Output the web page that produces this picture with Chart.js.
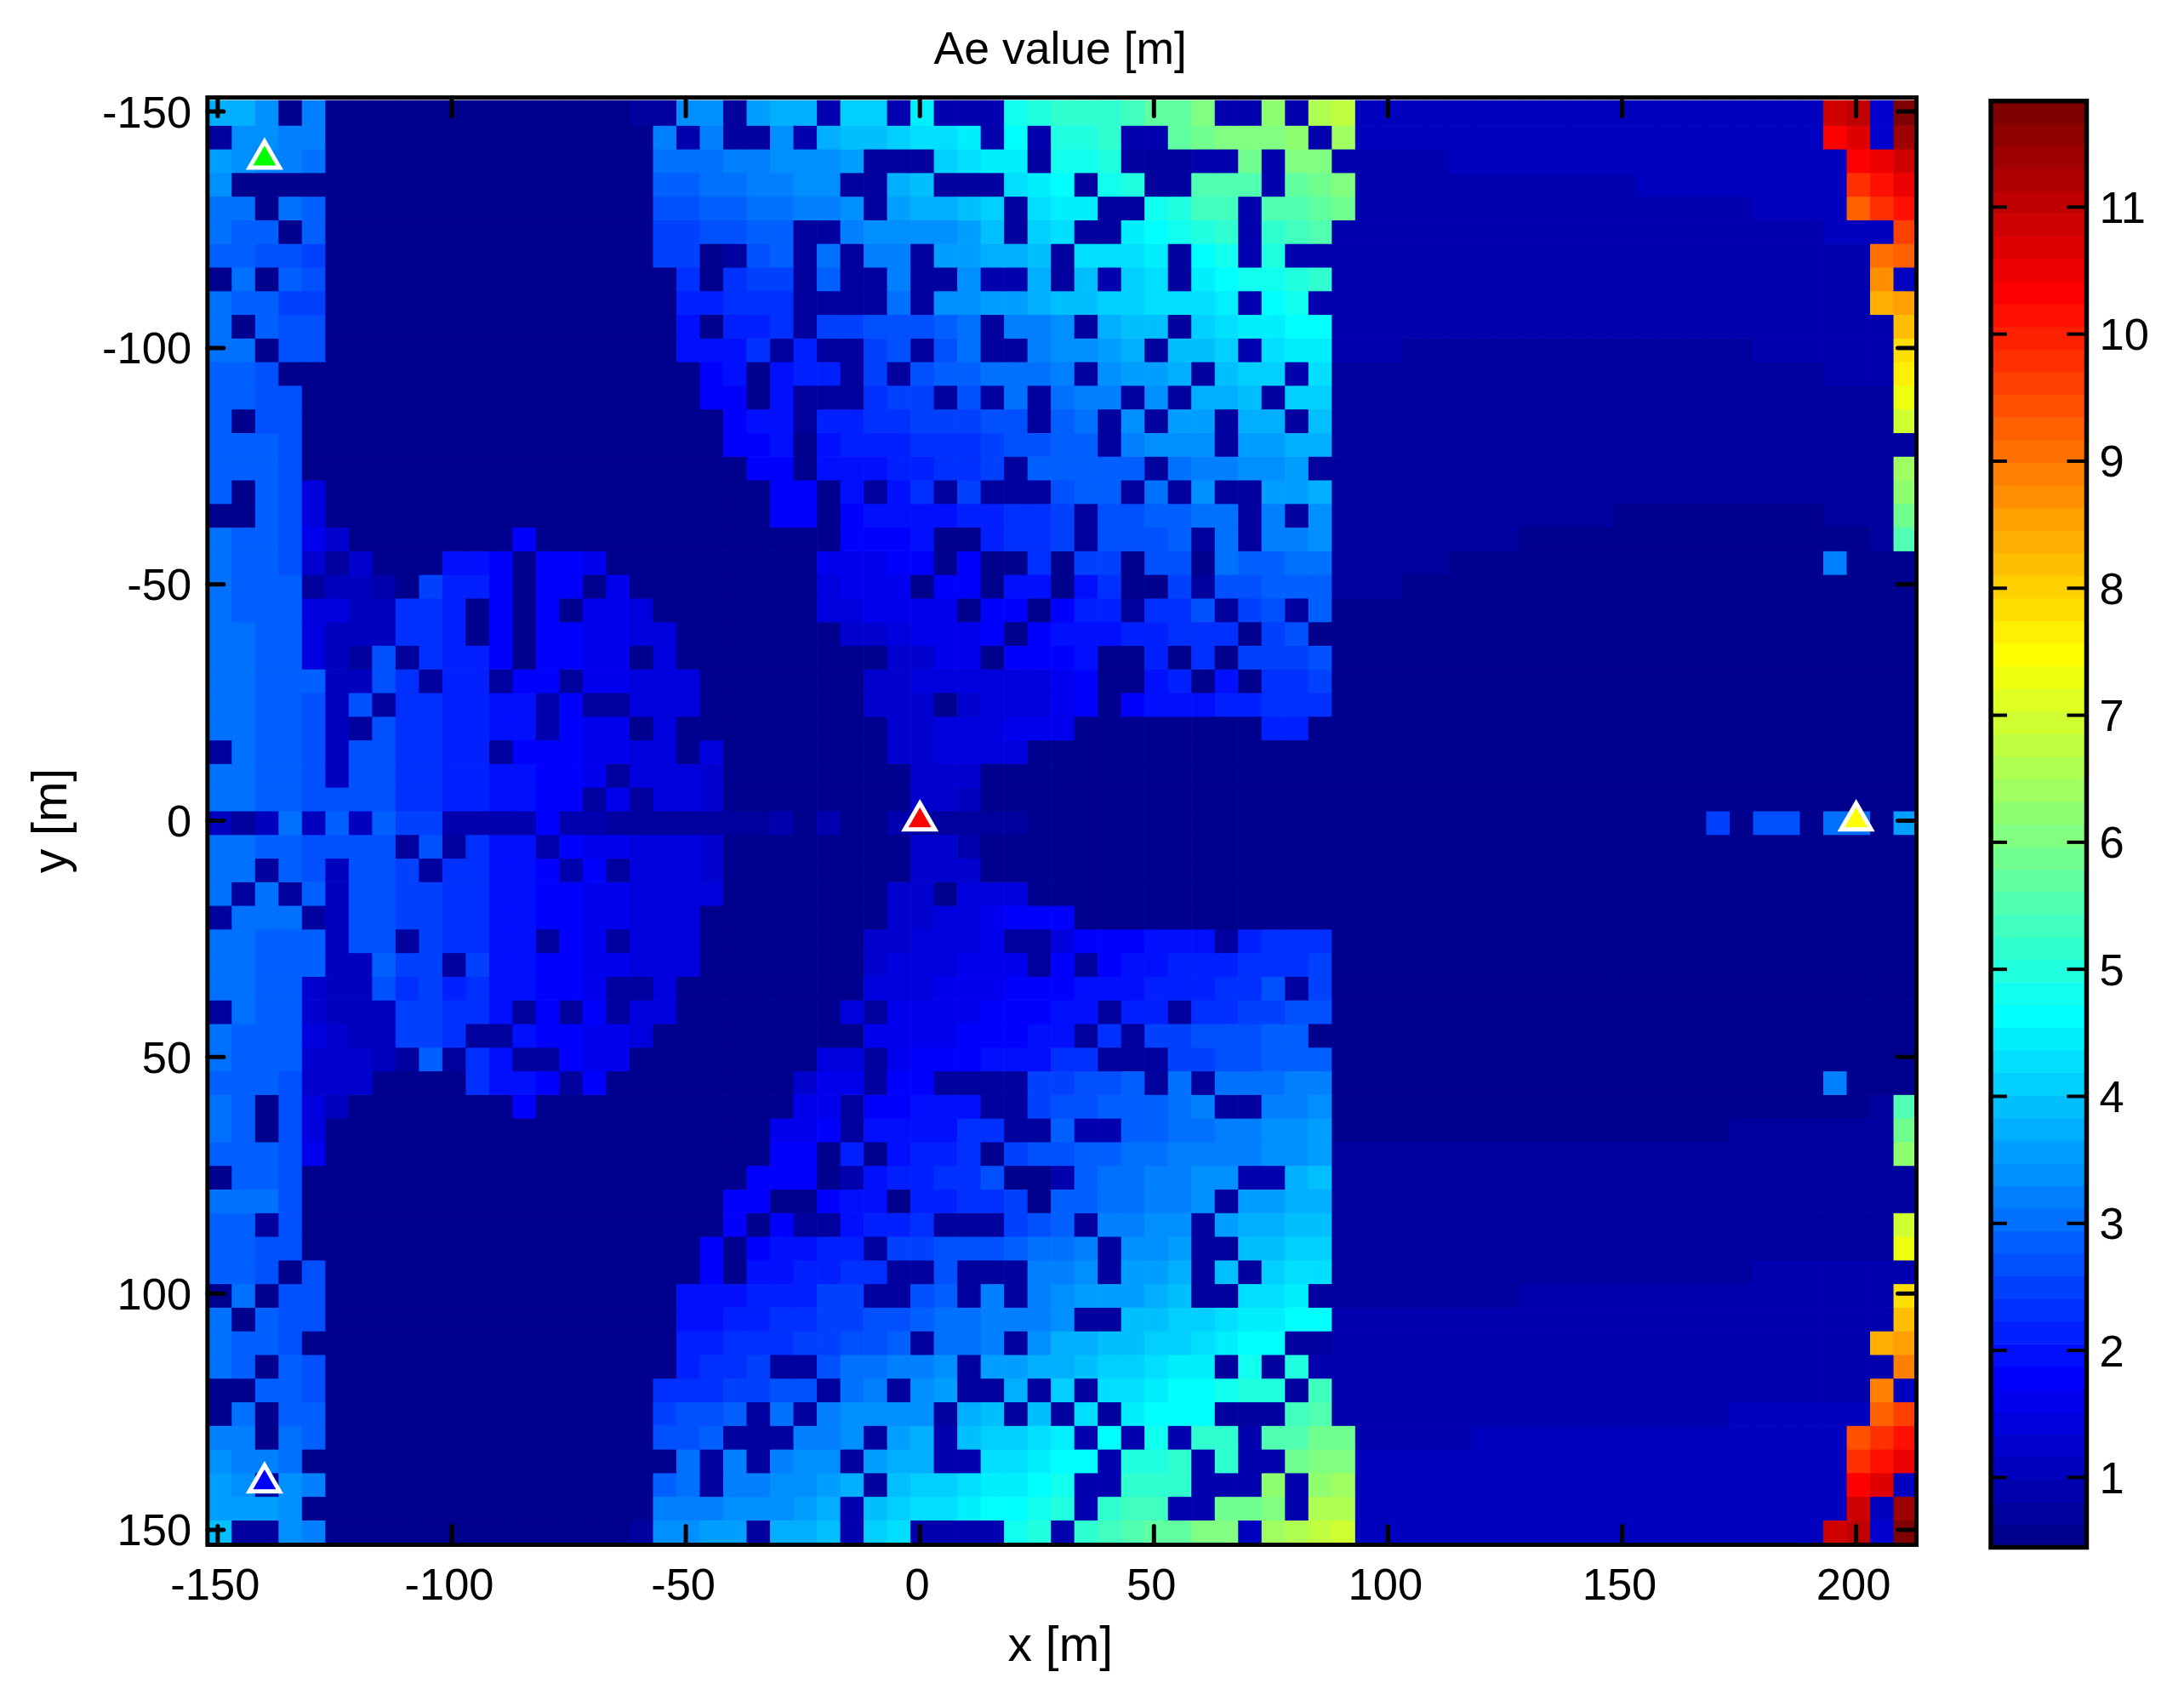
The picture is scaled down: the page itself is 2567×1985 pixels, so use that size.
<!DOCTYPE html>
<html>
<head>
<meta charset="utf-8">
<title>Ae value</title>
<script src="https://cdn.jsdelivr.net/npm/chart.js@4/dist/chart.umd.js"></script>
<style>
  html, body { margin: 0; padding: 0; background: #fff; }
  #map { position: absolute; left: 0; top: 0; }
  #bar { position: absolute; left: 2300px; top: 0; }
</style>
</head>
<body>
<canvas id="map" width="2567" height="1985"></canvas>
<canvas id="bar" width="267" height="1985"></canvas>
<script>
const titleText = 'Ae value [m]';
const xTitle = 'x [m]';
const yTitle = 'y [m]';
const xTicks = [-150, -100, -50, 0, 50, 100, 150, 200];
const yTicks = [-150, -100, -50, 0, 50, 100, 150];
const barTicks = [1, 2, 3, 4, 5, 6, 7, 8, 9, 10, 11];

// colour range of the bar, 64 jet levels
const barMin = 0.45;
const barMax = 11.835;
const levelKey = '0123456789abcdefghijklmnopqrstuvwxyzABCDEFGHIJKLMNOPQRSTUVWXYZ+*';

// cell levels. one string per row, y = -150 to 150
// x = -150 to -30
const leftCells = [
  'iig0f 00000 00000 00011 gg1hi',
  '1ggff 00000 00000 0000f 2f11g',
  'hgffe 00000 00000 0000e eeffg',
  'g0000 00000 00000 0000d deeff',
  'ee0ed 00000 00000 0000c cddee',
  'edd0d 00000 00000 0000b bccdd',
  'ddccb 00000 00000 0000b b01cd',
  '0e0dc 00000 00000 00000 a0abb',
  'eddbb 00000 00000 00000 99aaa',
  'e0dcc 00000 00000 00000 8099a',
  'ee0cc 00000 00000 00000 888a1',
  'ddc00 00000 00000 00000 07808',
  'ddcc0 00000 00000 00000 07708',
  'd0cc0 00000 00000 00000 00788',
  'dddc0 00000 00000 00000 00778',
  'dddc0 00000 00000 00000 00077',
  'd0dc5 00000 00000 00000 00007',
  '00dc5 00000 00000 00000 00007',
  'eddc6 40000 00070 00000 00000',
  'eddc4 14000 88707 76000 00000',
  'eddd1 3320b 99707 70600 00000',
  'eddd5 533aa 90707 06650 00000',
  'eedd5 333aa 90707 76655 00000',
  'eedd5 31c1a 99707 76605 00000',
  'eeddd 33ca1 99177 16655 50000',
  'eeddc 3c1aa 99882 71155 50000',
  'eeddc 31caa 99882 76605 00000',
  '1eddc 3ccaa 99177 76655 05000',
  'eeddc 3ccaa 99887 76155 54000',
  'eeddc cccaa 99887 71615 54000',
  '313e3 d3dbb 22227 22111 11112',
  'eeddc ccc1c 1a882 76655 54000',
  'ee1dc 3ccb1 aa887 27155 54000',
  'e1e1d 3ccbb aa887 76655 55000',
  '1eee1 3ccbb aa887 76655 50000',
  'eeddd 3cc1b aa881 76155 50000',
  'eeddd 33dbb 1b887 76655 50000',
  'eedd4 33cab 9a887 76115 00000',
  '1edd4 333bb aa817 17155 00000',
  'eddd5 433bb a1187 76650 00000',
  'eddd4 4431d 1a811 76600 00000',
  'dddc4 44000 0a887 17000 00000',
  'ed0c5 30000 00070 00000 00000',
  'ed0c5 00000 00000 00000 00006',
  'dddc6 00000 00000 00000 00007',
  '0ddc0 00000 00000 00000 00077',
  'eeec0 00000 00000 00000 00770',
  'dd1c0 00000 00000 00000 00707',
  'ddcc0 00000 00000 00000 07078',
  'ddc0c 00000 00000 00000 07088',
  '0e0cc 00000 00000 00000 88899',
  'e0dcc 00000 00000 00000 8899a',
  'eddc0 00000 00000 00000 99aaa',
  'ed0dc 00000 00000 00000 9aab1',
  '00ddc 00000 00000 0000a aabbc',
  '0e0dd 00000 00000 0000b ccd1e',
  'ff0ed 00000 00000 0000c cd111',
  'gffe0 00000 00000 00000 e1f1f',
  'hg1gf 00000 00000 0000d e1ffg',
  'hhhg0 00000 00000 0000f ffggg',
  'j11gf 00000 00000 0001g ghh1i'
];

// x = -25 to 90
const midCells = [
  'i2kk2m22 2opqqqrt tv22w2yz',
  '2ijjkllm 2n2ppq22 tuvvvw2x',
  'ggh111kl mm1oop11 122u2vv2',
  'gg11ij11 1lmn1op1 1sss2tuv',
  'ffg1hiij k1lmm11o prr2sstu',
  '11fggggh j1kl11mn opq2qrs2',
  '1e1ff1hh iij1lllm 1no2p222',
  '1d11f11g 22i1j2kl 1mnoopq2',
  '1111e1gg hhijjkkl llm2no22',
  '1bbcccde 1ffg1ijj 1klmmnn2',
  '911bc1ce 11fgghi1 jjk2lmm2',
  '991b1cdd eeef1ghh i1jkk2l1',
  '111abb1c 1e1eff1g 1iij1kk1',
  '199aabbb cc1de1g1 hh1ii1j1',
  '08999aaa bccdd1fg gg1hhii1',
  '088899aa b1ddddd1 effggh11',
  '70818a1b 111cdd1e 1g11hhi1',
  '70788889 9aab1ccd dee1f1g1',
  '00777800 9aab1ccc d1e1ffg1',
  '06667707 00a0bb0c c0eddee1',
  '05666077 08808a00 b1ccddd1',
  '05566660 7707991a ac1bc1d0',
  '00445666 70788899 aaa0bc00',
  '00004466 07778009 0a0bbbc0',
  '00044555 555670089 080aab0',
  '00044404 55567078 8899aaa0',
  '00004455 56660000 00009900',
  '00004455 55000000 00000000',
  '00000444 00000000 00000000',
  '00000443 00000000 00000000',
  '02002111 11000000 00000000',
  '00000442 00000000 00000000',
  '00000444 00000000 00000000',
  '00004405 55000000 00000000',
  '00004455 67770000 00000000',
  '00044555 61157778 8819aaa0',
  '00045556 66171788 999aaab0',
  '00055566 67778889 99aac1b0',
  '00516666 77788199 1aabbcc0',
  '00066667 77881a1b bcccdd00',
  '05516777 888aa111 bbccddd0',
  '46617711 11bbccd1 e1eeeff0',
  '66177888 11bccddd ef11ffg0',
  '6718888a a11d22dd eeffggh0',
  '7090899a 0bccddee ffffggh1',
  '702899aa c002deef fgg22ij1',
  '0788099a ab0ddeef fg1hhii1',
  '11899a11 1bcd1ffg g1hiijj1',
  '8991bbcc cdeef1gg h11jjkk1',
  '99aa11c1 11ffg1hh i1j1kll1',
  '9bb11cd1 f1fghhhi j11llm11',
  'abbccdee fffg11jj kklmmnn2',
  'bbccd1ee f1giijjk klmnn112',
  '1ceeffg1 hhiijkkl mm1o1p22',
  'c1ef1gh1 1i1k1llm nnopp1r2',
  '1fgggg1i j1j1l1mn nn111rs2',
  'ffg1hi2j kklm2n2o 2qq2ssuu',
  'gg1hii22 llmnn2pp q2q22uvv',
  'ghi1jkkl mmno22qq q222w2wx',
  'hi2jkllm nnop2qrr 22uuv2yy',
  'ij2kl222 2op2qrst tvv3xyzA'
];

// x = 95 to 210
const rightCells = [
  '33333 33333 33333 33333 WX4*',
  '33333 33333 33333 33333 TV4Z',
  '22223 33333 33333 33333 3TUW',
  '22222 22222 22333 33333 3QSU',
  '22222 22222 22222 22333 3NQS',
  '22222 22222 22222 22222 333P',
  '22222 22222 22222 22222 22MN',
  '22222 22222 22222 22222 22K3',
  '22222 22222 22222 22222 22IJ',
  '22222 22222 22222 22222 222H',
  '22111 11111 11111 11222 222F',
  '11111 11111 11111 11111 222E',
  '11111 11111 11111 11111 111C',
  '11111 11111 11111 11111 111A',
  '11111 11111 11111 11111 1111',
  '11111 11111 11111 11111 111x',
  '11111 11111 11111 11111 111w',
  '11111 11111 10000 00000 111u',
  '11111 11000 00000 00000 001s',
  '11110 00000 00000 00000 f000',
  '11000 00000 00000 00000 0000',
  '00000 00000 00000 00000 0000',
  '00000 00000 00000 00000 0000',
  '00000 00000 00000 00000 0000',
  '00000 00000 00000 00000 0000',
  '00000 00000 00000 00000 0000',
  '00000 00000 00000 00000 0000',
  '00000 00000 00000 00000 0000',
  '00000 00000 00000 00000 0000',
  '00000 00000 00000 00000 0000',
  '00000 00000 00000 b0cc0 ee0h',
  '00000 00000 00000 00000 0000',
  '00000 00000 00000 00000 0000',
  '00000 00000 00000 00000 0000',
  '00000 00000 00000 00000 0000',
  '00000 00000 00000 00000 0000',
  '00000 00000 00000 00000 0000',
  '00000 00000 00000 00000 0000',
  '00000 00000 00000 00000 0000',
  '00000 00000 00000 00000 0000',
  '00000 00000 00000 00000 0000',
  '00000 00000 00000 00000 f000',
  '00000 00000 00000 00000 001s',
  '00000 00000 00000 01111 111u',
  '11111 11111 11111 11111 111w',
  '11111 11111 11111 11111 1111',
  '11111 11111 11111 11111 1111',
  '11111 11111 11111 11111 111A',
  '11111 11111 11111 11111 111C',
  '11111 11111 11111 11222 2222',
  '11111 11222 22222 22222 222F',
  '22222 22222 22222 22222 222H',
  '22222 22222 22222 22222 22IJ',
  '22222 22222 22222 22222 222L',
  '22222 22222 22222 22222 22L3',
  '22222 22222 22222 23333 33NP',
  '22222 33333 33333 33333 3OQS',
  '33333 33333 33333 33333 3QSU',
  '33333 33333 33333 33333 3TV3',
  '33333 33333 33333 33333 3W3Z',
  '33333 33333 33333 33333 WX4*'
];

const stationX = [-140, -140, 0, 200];
const stationY = [-140, 140, 0, 0];
const stationColors = ['#00ff00', '#0000ff', '#ff0000', '#ffff00'];

const fontFamily = '"Liberation Sans", Arial, sans-serif';
const tickFont = { family: fontFamily, size: 52.5 };
const axisFont = { family: fontFamily, size: 57 };

const clamp01 = (v) => Math.min(1, Math.max(0, v));
const jetColors = Array.from({ length: 64 }, (_, i) => {
  const t = 4 * (i + 1) / 64;
  const ch = (c) => Math.round(255 * clamp01(1.5 - Math.abs(t - c)));
  return `rgb(${ch(3)},${ch(2)},${ch(1)})`;
});
const barStep = (barMax - barMin) / 64;
const barLevels = jetColors.map((_, i) => barMin + (i + 0.5) * barStep);

const cellRows = leftCells.map((row, i) => (row + midCells[i] + rightCells[i]).replace(/ /g, ''));

// the image sits a few pixels off the axes in the original
const imageShift = { x: 3, y: 2.5 };

const rowDatasets = cellRows.map((row, r) => {
  const y = -150 + 5 * r;
  const top = r === 0 ? y - 2.8 : y - 2.5;
  return {
    type: 'bar',
    data: [...row].map((_, c) => ({ x: -150 + 5 * c, y: [top, y + 2.5] })),
    backgroundColor: [...row].map((ch) => jetColors[levelKey.indexOf(ch)]),
    borderWidth: 0,
    grouped: false,
    barPercentage: 1,
    categoryPercentage: 1,
    clip: false,
    order: 1,
  };
});

const stationDatasets = stationX.map((x, i) => ({
  type: 'scatter',
  data: [{ x, y: stationY[i] }],
  pointStyle: 'triangle',
  pointRadius: 20.5,
  backgroundColor: stationColors[i],
  borderColor: '#ffffff',
  borderWidth: 5,
  clip: false,
  order: 0,
}));

const tick = (ctx, x0, y0, x1, y1) => {
  ctx.beginPath();
  ctx.moveTo(x0, y0);
  ctx.lineTo(x1, y1);
  ctx.stroke();
};

const shiftImage = {
  id: 'shiftImage',
  beforeDatasetDraw(chart, args) {
    if (args.meta.type !== 'bar') return;
    chart.ctx.save();
    chart.ctx.translate(imageShift.x, imageShift.y);
  },
  afterDatasetDraw(chart, args) {
    if (args.meta.type === 'bar') chart.ctx.restore();
  },
};

const mapFrame = {
  id: 'mapFrame',
  afterDatasetsDraw(chart) {
    const { ctx, chartArea: a, scales } = chart;
    const left = a.left + 1.7;
    const right = a.right + 2.1;
    const top = a.top - 2.6;
    const bottom = a.bottom + 3.6;
    ctx.save();
    ctx.strokeStyle = '#000';
    ctx.lineWidth = 5;
    ctx.lineCap = 'round';
    scales.x.ticks.forEach((t) => {
      const px = scales.x.getPixelForValue(t.value);
      tick(ctx, px, top, px, top + 22);
      tick(ctx, px, bottom, px, bottom - 22);
    });
    scales.y.ticks.forEach((t) => {
      const py = scales.y.getPixelForValue(t.value);
      tick(ctx, left, py, left + 19, py);
      tick(ctx, right, py, right - 22, py);
    });
    ctx.lineCap = 'butt';
    ctx.strokeRect(left, top, right - left, bottom - top);
    ctx.restore();
  },
};

const barFrame = {
  id: 'barFrame',
  afterDatasetsDraw(chart) {
    const { ctx, chartArea: a, scales } = chart;
    ctx.save();
    ctx.strokeStyle = '#000';
    ctx.lineWidth = 4;
    scales.y.ticks.forEach((t) => {
      const py = scales.y.getPixelForValue(t.value);
      tick(ctx, a.left, py, a.left + 19, py);
      tick(ctx, a.right, py, a.right - 23, py);
    });
    ctx.lineWidth = 5.5;
    ctx.strokeRect(a.left, a.top, a.right - a.left, a.bottom - a.top);
    ctx.restore();
  },
};

new Chart(document.getElementById('map'), {
  data: { datasets: [...stationDatasets, ...rowDatasets] },
  plugins: [shiftImage, mapFrame],
  options: {
    responsive: false,
    animation: false,
    events: [],
    layout: { padding: { left: 0, right: 316.6, top: 0, bottom: 0 } },
    plugins: {
      legend: { display: false },
      tooltip: { enabled: false },
      title: {
        display: true,
        text: titleText,
        color: '#000',
        fullSize: false,
        font: { family: fontFamily, size: 53.5, weight: 'normal' },
        padding: { top: 28, bottom: 25 },
      },
    },
    scales: {
      x: {
        type: 'linear',
        offset: false,
        min: -152.5,
        max: 212.5,
        afterFit: (s) => { s.height = 173.1; },
        afterBuildTicks: (s) => { s.ticks = xTicks.map((value) => ({ value })); },
        grid: { display: false, offset: false, drawTicks: false },
        border: { display: false },
        ticks: {
          color: '#000',
          font: tickFont,
          padding: 22,
          labelOffset: -3,
          maxRotation: 0,
          autoSkip: false,
          callback: (v) => String(v),
        },
        title: {
          display: true,
          text: xTitle,
          color: '#000',
          font: axisFont,
          padding: { top: 0, bottom: 15 },
        },
      },
      y: {
        type: 'linear',
        reverse: true,
        min: -152.5,
        max: 152.5,
        afterFit: (s) => { s.width = 242.15; },
        afterBuildTicks: (s) => { s.ticks = yTicks.map((value) => ({ value })); },
        grid: { display: false, drawTicks: false },
        border: { display: false },
        ticks: {
          color: '#000',
          font: tickFont,
          padding: 17,
          labelOffset: 4,
          autoSkip: false,
          callback: (v) => String(v),
        },
        title: {
          display: true,
          text: yTitle,
          color: '#000',
          font: axisFont,
          padding: { top: 28, bottom: 0 },
        },
      },
    },
  },
});

new Chart(document.getElementById('bar'), {
  type: 'bar',
  data: {
    datasets: [{
      data: barLevels.map((y) => ({ x: [0, 1], y })),
      backgroundColor: jetColors,
      borderWidth: 0,
      barPercentage: 1,
      categoryPercentage: 1,
    }],
  },
  plugins: [barFrame],
  options: {
    responsive: false,
    animation: false,
    events: [],
    indexAxis: 'y',
    layout: { padding: { left: 40, right: 0, top: 118.7, bottom: 166.5 } },
    plugins: { legend: { display: false }, tooltip: { enabled: false } },
    scales: {
      x: { type: 'linear', min: 0, max: 1, display: false },
      y: {
        type: 'linear',
        position: 'right',
        offset: false,
        min: barMin,
        max: barMax,
        afterFit: (s) => { s.width = 114.5; },
        afterBuildTicks: (s) => { s.ticks = barTicks.map((value) => ({ value })); },
        grid: { display: false, offset: false, drawTicks: false },
        border: { display: false },
        ticks: {
          color: '#000',
          font: tickFont,
          padding: 15,
          labelOffset: 4,
          autoSkip: false,
          callback: (v) => String(v),
        },
      },
    },
  },
});
</script>
</body>
</html>
